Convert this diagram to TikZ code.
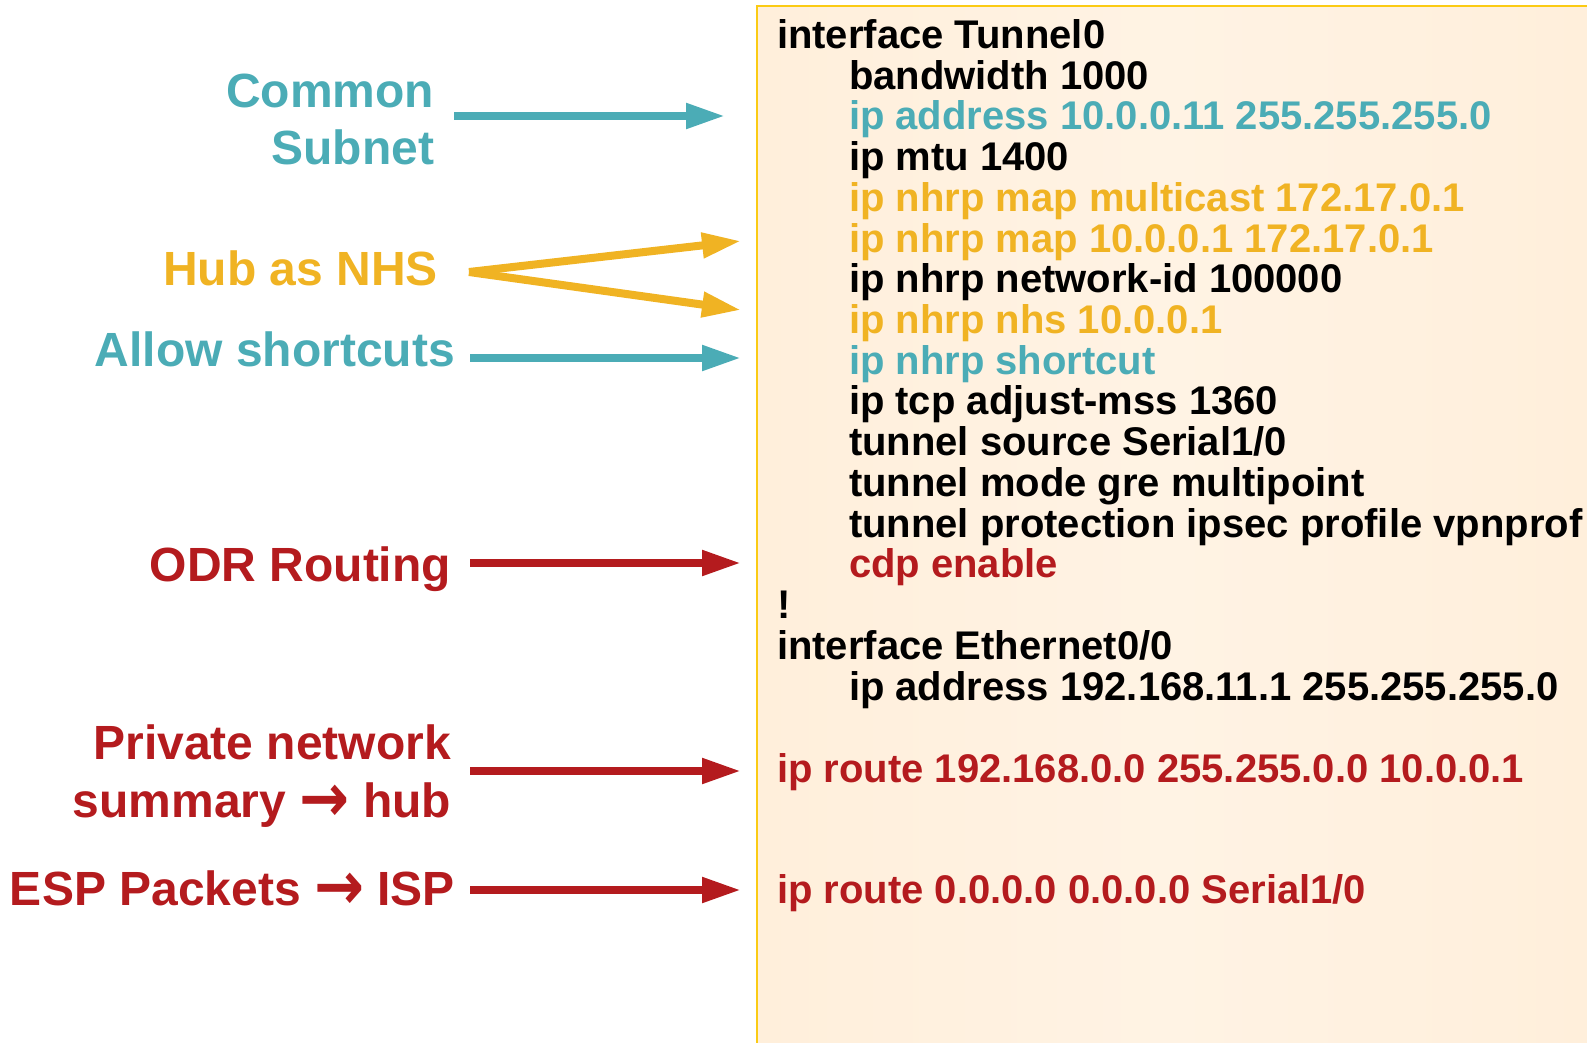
\documentclass[tikz,border=0pt]{standalone}
\usepackage{fontspec}
\usepackage{graphicx}
\setmainfont{Liberation Sans}
\newfontfamily\arrfont{DejaVu Sans}
\usetikzlibrary{arrows.meta}
\definecolor{cteal}{HTML}{4BACB6}
\definecolor{cyel}{HTML}{F0B323}
\definecolor{cred}{HTML}{B41B1E}
\definecolor{cbox}{HTML}{FFEFDB}
\definecolor{cboxl}{HTML}{FFF3E4}
\definecolor{cborder}{HTML}{FBCB14}
\newcommand\codef{\fontsize{40}{48}\selectfont\bfseries}
\newcommand\lblf{\fontsize{48}{58}\selectfont\bfseries}
\newcommand\rarr{\raisebox{-4pt}{\scalebox{1.15}[1.3]{\arrfont\fontsize{52}{58}\selectfont →}}}
\begin{document}
\begin{tikzpicture}[x=1pt,y=-1pt,
  code/.style={anchor=base west, inner sep=0pt, outer sep=0pt, font=\codef},
  lbl/.style={anchor=base east, inner sep=0pt, outer sep=0pt, font=\lblf},
  arr/.style={line width=8pt, -{Triangle[length=39pt,width=24pt]}}]
\useasboundingbox (0,0) rectangle (1587,1043);
\fill[left color=cbox, right color=cbox, middle color=cboxl] (757,6) rectangle (1587,1043);
\draw[cborder, line width=2.5pt] (757,1043) -- (757,6) -- (1587,6);
% code lines
\def\bl#1{\fpeval{48.3+40.74*#1}}
\node[code] (c0) at (777,{\bl{0}}) {interface Tunnel0};
\node[code] (c1) at (849,{\bl{1}}) {bandwidth 1000};
\node[code, text=cteal] (c2) at (849,{\bl{2}}) {ip address 10.0.0.11 255.255.255.0};
\node[code] (c3) at (849,{\bl{3}}) {ip mtu 1400};
\node[code, text=cyel] (c4) at (849,{\bl{4}}) {ip nhrp map multicast 172.17.0.1};
\node[code, text=cyel] (c5) at (849,{\bl{5}}) {ip nhrp map 10.0.0.1 172.17.0.1};
\node[code] (c6) at (849,{\bl{6}}) {ip nhrp network-id 100000};
\node[code, text=cyel] (c7) at (849,{\bl{7}}) {ip nhrp nhs 10.0.0.1};
\node[code, text=cteal] (c8) at (849,{\bl{8}}) {ip nhrp shortcut};
\node[code] (c9) at (849,{\bl{9}}) {ip tcp adjust-mss 1360};
\node[code] (c10) at (849,{\bl{10}}) {tunnel source Serial1/0};
\node[code] (c11) at (849,{\bl{11}}) {tunnel mode gre multipoint};
\node[code] (c12) at (849,{\bl{12}}) {tunnel protection ipsec profile vpnprof};
\node[code, text=cred] (c13) at (849,{\bl{13}}) {cdp enable};
\node[code] (c14) at (777,{\bl{14}}) {!};
\node[code] (c15) at (777,{\bl{15}}) {interface Ethernet0/0};
\node[code] (c16) at (849,{\bl{16}}) {ip address 192.168.11.1 255.255.255.0};
\node[code, text=cred] (r1) at (777,782) {ip route 192.168.0.0 255.255.0.0 10.0.0.1};
\node[code, text=cred] (r2) at (777,903) {ip route 0.0.0.0 0.0.0.0 Serial1/0};
% labels
\node[lbl, text=cteal] (l1a) at (434,108) {Common};
\node[lbl, text=cteal] (l1b) at (434,165) {Subnet};
\node[lbl, text=cyel] (l2) at (438,285) {Hub as NHS};
\node[lbl, text=cteal] (l3) at (455,366) {Allow shortcuts};
\node[lbl, text=cred] (l4) at (451,581) {ODR Routing};
\node[lbl, text=cred] (l5a) at (451,759) {Private network};
\node[lbl, text=cred] (l5b) at (451,817) {summary \rarr\ hub};
\node[lbl, text=cred] (l6) at (455,905) {ESP Packets \rarr\ ISP};
% arrow ends
\coordinate (s1) at (454,116); \coordinate (t1) at (725,116);
\coordinate (s2) at (469,272); \coordinate (t2a) at (741,241); \coordinate (t2b) at (741,310);
\coordinate (s3) at (470,358); \coordinate (t3) at (741,358);
\coordinate (s4) at (470,563); \coordinate (t4) at (741,563);
\coordinate (s5) at (470,771); \coordinate (t5) at (741,771);
\coordinate (s6) at (470,890); \coordinate (t6) at (741,890);
\draw[arr, cteal] (s1) -- (t1);
\draw[arr, cyel] (s2) -- (t2a);
\draw[arr, cyel] (s2) -- (t2b);
\draw[arr, cteal] (s3) -- (t3);
\draw[arr, cred] (s4) -- (t4);
\draw[arr, cred] (s5) -- (t5);
\draw[arr, cred] (s6) -- (t6);
\end{tikzpicture}
\end{document}
